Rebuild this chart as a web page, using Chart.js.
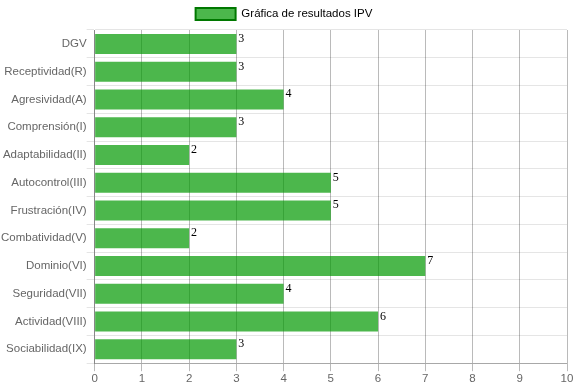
<!DOCTYPE html>
<html>
<head>
<meta charset="utf-8">
<script src="https://cdn.jsdelivr.net/npm/chart.js@4/dist/chart.umd.min.js"></script>
<style>
html,body{margin:0;padding:0;background:#fff;}
#wrap{width:575px;height:387px;}
</style>
</head>
<body>
<div id="wrap"><canvas id="c" width="575" height="387"></canvas></div>
<script>
const categories = ["DGV","Receptividad(R)","Agresividad(A)","Comprensión(I)","Adaptabilidad(II)","Autocontrol(III)","Frustración(IV)","Combatividad(V)","Dominio(VI)","Seguridad(VII)","Actividad(VIII)","Sociabilidad(IX)"];
const values = [3,3,4,3,2,5,5,2,7,4,6,3];
const seriesName = "Gráfica de resultados IPV";
const xTicks = [0,1,2,3,4,5,6,7,8,9,10];

Chart.defaults.font.family = "'Liberation Sans', Arial, sans-serif";
Chart.defaults.font.size = 11.5;
Chart.defaults.color = "#666";

const labelPlugin = {
  id: 'valueLabels',
  afterDatasetsDraw(chart) {
    const ctx = chart.ctx;
    const meta = chart.getDatasetMeta(0);
    ctx.save();
    ctx.font = "12px 'Liberation Serif', 'Times New Roman', serif";
    ctx.fillStyle = "#000";
    ctx.textAlign = "left";
    ctx.textBaseline = "alphabetic";
    meta.data.forEach((bar, i) => {
      ctx.fillText(String(chart.data.datasets[0].data[i]), bar.x + 2, bar.y - 2);
    });
    ctx.restore();
  }
};

new Chart(document.getElementById('c'), {
  type: 'bar',
  data: {
    labels: categories,
    datasets: [{
      label: seriesName,
      data: values,
      backgroundColor: 'rgba(0,153,0,0.7)',
      borderColor: 'rgb(0,120,0)',
      borderWidth: 0
    }]
  },
  options: {
    indexAxis: 'y',
    responsive: false,
    animation: false,
    devicePixelRatio: 1,
    layout: { padding: { left: 1, right: 8, top: 0, bottom: 0 } },
    plugins: {
      legend: {
        labels: {
          boxWidth: 40,
          boxHeight: 12,
          padding: 8,
          generateLabels(chart) {
            const ds = chart.data.datasets[0];
            return [{
              text: ds.label,
              fillStyle: ds.backgroundColor,
              strokeStyle: 'rgb(0,120,0)',
              lineWidth: 2,
              datasetIndex: 0,
              hidden: false
            }];
          }
        }
      },
      tooltip: { enabled: false }
    },
    scales: {
      x: {
        min: 0,
        max: 10,
        afterBuildTicks(axis) { axis.ticks = xTicks.map(v => ({ value: v })); },
        grid: { color: 'rgba(0,0,0,0.27)', tickLength: 8 },
        border: { color: 'rgba(0,0,0,0.27)' },
        ticks: { padding: 1 }
      },
      y: {
        grid: { color: 'rgba(0,0,0,0.1)', tickLength: 8 },
        border: { color: 'rgba(0,0,0,0.27)' },
        ticks: { padding: 0 }
      }
    }
  },
  plugins: [labelPlugin]
});
</script>
</body>
</html>
